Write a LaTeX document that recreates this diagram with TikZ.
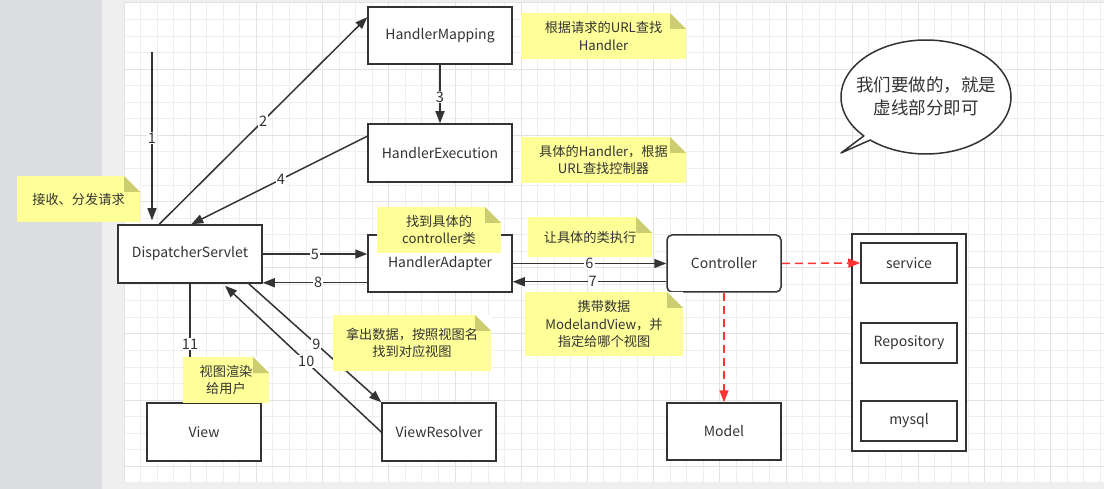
\documentclass[tikz,border=0pt]{standalone}
\usepackage{fontspec}
\setmainfont{Noto Sans CJK SC}
\usetikzlibrary{arrows.meta,calc}
\definecolor{edgec}{HTML}{333333}
\definecolor{leftgray}{HTML}{DCDDE1}
\definecolor{pagegray}{HTML}{EFEFEF}
\definecolor{gridminor}{HTML}{EEEEEE}
\definecolor{gridmajor}{HTML}{E2E2E2}
\definecolor{noteyellow}{HTML}{FFFF99}
\definecolor{notefold}{HTML}{CCCC70}
\definecolor{redline}{HTML}{FF3333}
\newcommand\boxfont{\fontsize{14}{17}\selectfont}
\newcommand\notefont{\fontsize{13.2}{17.5}\selectfont}
\newcommand\labfont{\fontsize{14.5}{16}\selectfont}
\begin{document}
\begin{tikzpicture}[x=1pt,y=-1pt,
  box/.style={draw=edgec, line width=1.5pt, fill=white, inner sep=0pt, font=\boxfont, text=edgec},
  notebox/.style={fill=noteyellow, inner sep=0pt, align=center, font=\notefont, text=edgec,
    path picture={
      \fill[white] (path picture bounding box.north east) -- ++(-16pt,0pt) -- ++(16pt,-16pt) -- cycle;
      \fill[notefold] (path picture bounding box.north east) ++(-16pt,0pt) -- ++(0pt,-16pt) -- ++(16pt,0pt) -- cycle;}},
  arr/.style={draw=edgec, line width=1.5pt, -{Triangle[length=12pt,width=9pt]}},
  plain/.style={draw=edgec, line width=1.5pt},
  redarr/.style={draw=redline, line width=1.5pt, dash pattern=on 8pt off 5pt, -{Triangle[length=12pt,width=9pt]}},
  lab/.style={fill=white, inner sep=1pt, font=\labfont, text=edgec}]
\useasboundingbox (0,0) rectangle (1104,489);
% background
\fill[pagegray] (0,0) rectangle (1104,489);
\fill[leftgray] (0,0) rectangle (102,489);
\fill[white] (124,3) rectangle (1104,483);
\foreach \i in {0,...,59} {\draw[gridminor, line width=1pt] ({124+16.55*\i},3) -- ({124+16.55*\i},483);}
\foreach \j in {0,...,29} {\draw[gridminor, line width=1pt] (124,{3+16.55*\j}) -- (1104,{3+16.55*\j});}
\foreach \i in {0,4,...,59} {\draw[gridmajor, line width=1pt] ({124+16.55*\i},3) -- ({124+16.55*\i},483);}
\foreach \j in {0,4,...,29} {\draw[gridmajor, line width=1pt] (124,{3+16.55*\j}) -- (1104,{3+16.55*\j});}

% boxes
\node[box, minimum width=144pt, minimum height=58pt] (ds) at (190,254) {DispatcherServlet};
\node[box, minimum width=144pt, minimum height=57pt] (hm) at (440,35.5) {HandlerMapping};
\node[box, minimum width=144pt, minimum height=58pt] (he) at (440,153) {HandlerExecution};
\node[box, minimum width=144pt, minimum height=57pt] (ha) at (440,263.5) {HandlerAdapter};
\node[box, rounded corners=5pt, minimum width=114pt, minimum height=57pt] (ctrl) at (724,263.5) {Controller};
\node[box, minimum width=114pt, minimum height=57pt] (model) at (724,431.5) {Model};
\node[box, minimum width=114pt, minimum height=58pt] (view) at (204,432) {View};
\node[box, minimum width=114pt, minimum height=58pt] (vr) at (439,432) {ViewResolver};
\node[box, minimum width=114pt, minimum height=217pt] (outer) at (909,342.5) {};
\node[box, minimum width=96pt, minimum height=40pt] (svc) at (909,263) {service};
\node[box, minimum width=96pt, minimum height=40pt] (repo) at (909,343) {Repository};
\node[box, minimum width=96pt, minimum height=40pt] (db) at (909,421) {mysql};

% connectors
\coordinate (start) at (152,52);
\draw[arr, shorten >=4pt] (start) -- (start |- ds.north) node[lab, pos=0.5] {1};
\draw[arr] ([xshift=42pt]ds.north west) -- ([yshift=-11pt]hm.north west) node[lab, pos=0.5] {2};
\draw[arr] (hm.south) -- (he.north) node[lab, pos=0.55] {3};
\draw[arr] ([yshift=-13pt]he.north west) -- ([xshift=74pt]ds.north west) node[lab, pos=0.49] {4};
\draw[arr] (ds.east) -- (ds.east -| ha.west) node[lab, pos=0.5] {5};
\draw[arr] ([yshift=10pt]ha.south west) -- ([yshift=10pt]ha.south west -| ds.east) node[lab, pos=0.47] {8};
\draw[arr] (ha.east) -- (ctrl.west) node[lab, pos=0.5] {6};
\draw[arr] ([yshift=11pt]ctrl.south west) -- ([yshift=11pt]ctrl.south west -| ha.east) node[lab, pos=0.48] {7};
\draw[arr] ([xshift=-14pt]ds.south east) -- (vr.north west) node[lab, pos=0.51] {9};
\draw[arr] (vr.west) -- ([xshift=35pt,yshift=-2pt]ds.south) node[lab, pos=0.48] {10};
\draw[plain] (ds.south) -- (ds.south |- view.north) node[lab, pos=0.51] {11};
\draw[redarr] (ctrl.east) -- (svc.west);
\draw[redarr] (ctrl.south) -- (model.north);

% notes
\node[notebox, minimum width=123pt, minimum height=46pt] (n1) at (78.5,199) {接收、分发请求};
\node[notebox, minimum width=165pt, minimum height=46pt] (n2) at (603.5,36) {根据请求的URL查找\\Handler};
\node[notebox, minimum width=165pt, minimum height=46pt] (n3) at (603.5,160) {具体的Handler，根据\\URL查找控制器};
\node[notebox, minimum width=124pt, minimum height=46pt] (n4) at (439,230) {找到具体的\\controller类};
\node[notebox, minimum width=124pt, minimum height=40pt] (n5) at (590,237) {让具体的类执行};
\node[notebox, minimum width=158pt, minimum height=64pt] (n6) at (604,324) {携带数据\\ModelandView，并\\指定给哪个视图};
\node[notebox, minimum width=158pt, minimum height=56pt] (n7) at (412,343) {拿出数据，按照视图名\\找到对应视图};
\node[notebox, minimum width=86pt, minimum height=46pt] (n8) at (226,380) {视图渲染\\给用户};

% speech bubble
\draw[draw=edgec, line width=1.5pt, fill=white, line join=round]
  plot[domain=137:491, samples=120, smooth] ({926+85*cos(\x)},{97+57*sin(\x)}) -- (841,153) -- cycle;
\node[align=center, font=\fontsize{17.5}{23}\selectfont, text=edgec] (bubble) at (926,96) {我们要做的，就是\\虚线部分即可};
\end{tikzpicture}
\end{document}
